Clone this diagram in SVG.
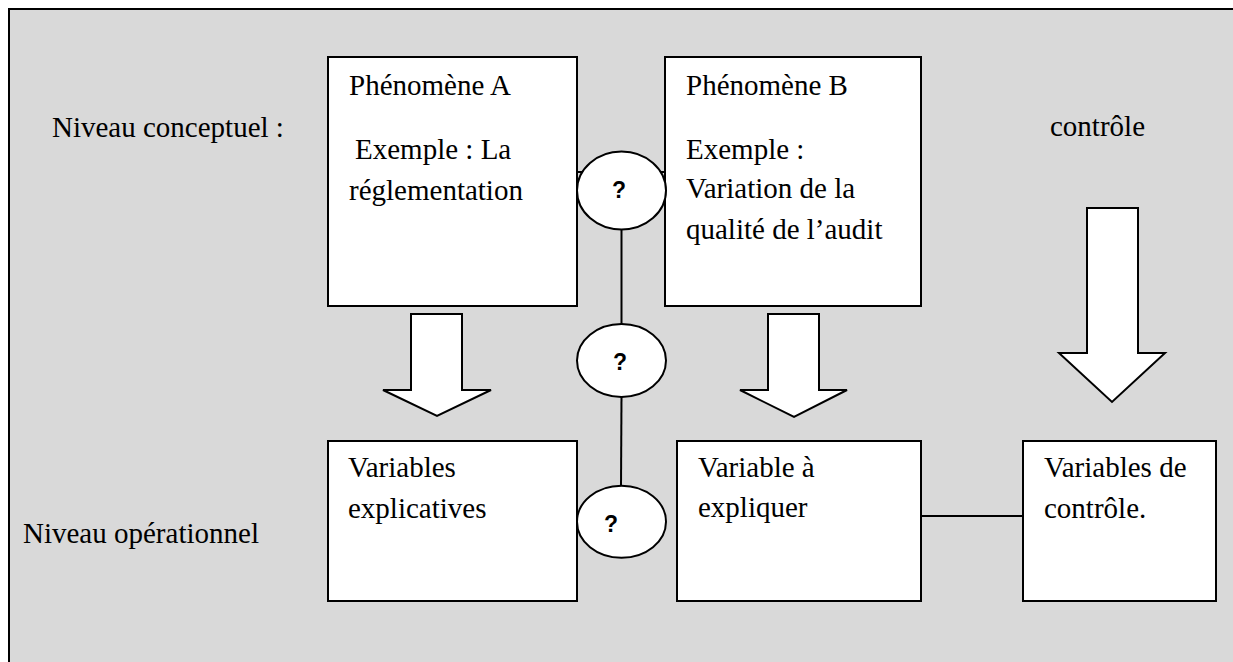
<svg xmlns="http://www.w3.org/2000/svg" width="1233" height="662" viewBox="0 0 1233 662">
<style>
.t{font-family:"Liberation Serif","Times New Roman",serif;font-size:29px;fill:#000}
.q{font-family:"Liberation Sans",Arial,sans-serif;font-size:23px;font-weight:bold;fill:#000;text-anchor:middle}
.box{fill:#fff;stroke:#000;stroke-width:2}
.ln{stroke:#000;stroke-width:2;fill:none}
</style>
<rect x="0" y="0" width="1233" height="662" fill="#fff"/>
<rect x="9" y="9" width="1240" height="670" fill="#d9d9d9" stroke="#000" stroke-width="2"/>
<text class="t" x="52" y="137">Niveau conceptuel :</text>
<text class="t" x="23" y="543">Niveau opérationnel</text>
<text class="t" x="1050" y="136">contrôle</text>
<g id="connectors">
<line class="ln" x1="577" y1="172" x2="665" y2="172"/>
<line class="ln" x1="621.5" y1="229" x2="621.5" y2="324"/>
<line class="ln" x1="621.5" y1="396" x2="621" y2="486"/>
<line class="ln" x1="921" y1="516" x2="1023" y2="516"/>
</g>
<g id="phenomeneA">
<rect class="box" x="328" y="57" width="249" height="249"/>
<text class="t" x="349" y="95">Phénomène A</text>
<text class="t" x="355" y="159">Exemple : La</text>
<text class="t" x="349" y="200">réglementation</text>
</g>
<g id="phenomeneB">
<rect class="box" x="665" y="57" width="256" height="249"/>
<text class="t" x="686" y="95">Phénomène B</text>
<text class="t" x="686" y="159">Exemple :</text>
<text class="t" x="686" y="198">Variation de la</text>
<text class="t" x="686" y="239">qualité de l’audit</text>
</g>
<g id="q1">
<ellipse class="box" cx="621.5" cy="190.5" rx="44.5" ry="39"/>
<text class="q" x="619" y="198">?</text>
</g>
<g id="q2">
<ellipse class="box" cx="621.5" cy="360.5" rx="44.5" ry="36.5"/>
<text class="q" x="620" y="370">?</text>
</g>
<g id="q3">
<ellipse class="box" cx="621.5" cy="521.7" rx="44.5" ry="36"/>
<text class="q" x="611" y="532">?</text>
</g>
<g id="arrowA">
<polygon class="box" points="411,314 462,314 462,390 491,390 437,416 383,390 411,390"/>
</g>
<g id="arrowB">
<polygon class="box" points="768,314 819,314 819,390 847,390 794,417 740,390 768,390"/>
</g>
<g id="arrowC">
<polygon class="box" points="1087,208 1138,208 1138,353 1165,353 1112,402 1059,353 1087,353"/>
</g>
<g id="varExplicatives">
<rect class="box" x="328" y="441" width="249" height="160"/>
<text class="t" x="348" y="477">Variables</text>
<text class="t" x="348" y="518">explicatives</text>
</g>
<g id="varExpliquer">
<rect class="box" x="677" y="441" width="244" height="160"/>
<text class="t" x="698" y="477">Variable à</text>
<text class="t" x="698" y="517">expliquer</text>
</g>
<g id="varControle">
<rect class="box" x="1023" y="441" width="193" height="160"/>
<text class="t" x="1044" y="477">Variables de</text>
<text class="t" x="1044" y="518">contrôle.</text>
</g>
</svg>
